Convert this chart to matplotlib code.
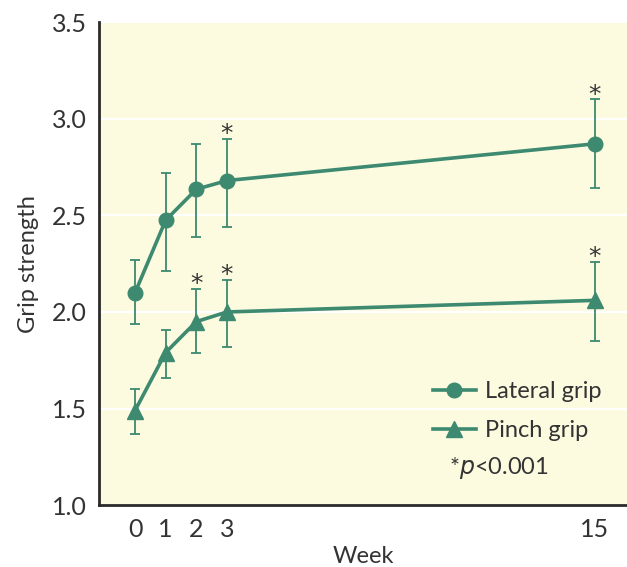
import matplotlib
matplotlib.use("Agg")
import matplotlib.pyplot as plt
import numpy as np

weeks = [0, 1, 2, 3, 15]
lateral = [2.10, 2.475, 2.635, 2.68, 2.87]
lateral_hi = [2.27, 2.72, 2.87, 2.895, 3.10]
lateral_lo = [1.94, 2.21, 2.39, 2.44, 2.64]
pinch = [1.49, 1.79, 1.95, 2.00, 2.06]
pinch_hi = [1.60, 1.905, 2.12, 2.165, 2.26]
pinch_lo = [1.37, 1.66, 1.79, 1.82, 1.85]
lateral_sig = [3, 15]
pinch_sig = [2, 3, 15]
yticks = [1.0, 1.5, 2.0, 2.5, 3.0, 3.5]

green = "#3d8a70"
bg = "#fcfbe0"
txt = "#333333"
plt.rcParams['font.family'] = ['Lato', 'DejaVu Sans']

fig = plt.figure(figsize=(6.27, 5.67), dpi=100)
ax = fig.add_axes([0.158, 0.109, 0.842, 0.852])
ax.set_facecolor(bg)

for v, hi, lo, m, lab, sig in [
    (lateral, lateral_hi, lateral_lo, 'o', 'Lateral grip', lateral_sig),
    (pinch, pinch_hi, pinch_lo, '^', 'Pinch grip', pinch_sig)]:
    v = np.array(v); hi = np.array(hi); lo = np.array(lo)
    ax.errorbar(weeks, v, yerr=[v - lo, hi - v], fmt='none', ecolor=green,
                elinewidth=1.3, capsize=3.5, capthick=1.3, zorder=3)
    ax.plot(weeks, v, color=green, lw=2.6, marker=m, markersize=10.5 if m == 'o' else 11.5,
            markerfacecolor=green, markeredgecolor=green, label=lab, zorder=4)
    for w in sig:
        i = weeks.index(w)
        ax.text(w, hi[i] - 0.012, '*', ha='center', va='baseline', fontsize=18,
                color=txt, family='DejaVu Sans', zorder=5)

ax.set_xlim(-1.175, 16.06)
ax.set_ylim(1.0, 3.5)
ax.set_yticks(yticks)
ax.set_yticklabels([f"{t:.1f}" for t in yticks])
ax.set_xticks(weeks)
ax.set_xticklabels([str(w) for w in weeks])
ax.tick_params(axis='y', length=0, labelsize=18, labelcolor=txt, pad=9)
ax.tick_params(axis='x', length=0, labelsize=18, labelcolor=txt, pad=9)
ax.grid(axis='y', color='white', lw=1.5)
ax.set_axisbelow(True)
for s in ['top', 'right']:
    ax.spines[s].set_visible(False)
for s in ['left', 'bottom']:
    ax.spines[s].set_color('#2a2a2a')
    ax.spines[s].set_linewidth(2)

ax.set_ylabel('Grip strength', fontsize=17, color=txt, labelpad=9)
ax.set_xlabel('Week', fontsize=17, color=txt, labelpad=4)

leg = ax.legend(loc='center left', bbox_to_anchor=(0.6326, 0.1946), frameon=False,
                fontsize=17, handlelength=1.8, handletextpad=0.4, labelspacing=0.78,
                borderpad=0, borderaxespad=0, labelcolor=txt)
ax.text(0.663, 0.0766, r'*$\it{p}$<0.001', transform=ax.transAxes, fontsize=17,
        color=txt, ha='left', va='center')

fig.savefig('out.png', dpi=100, facecolor='white')
